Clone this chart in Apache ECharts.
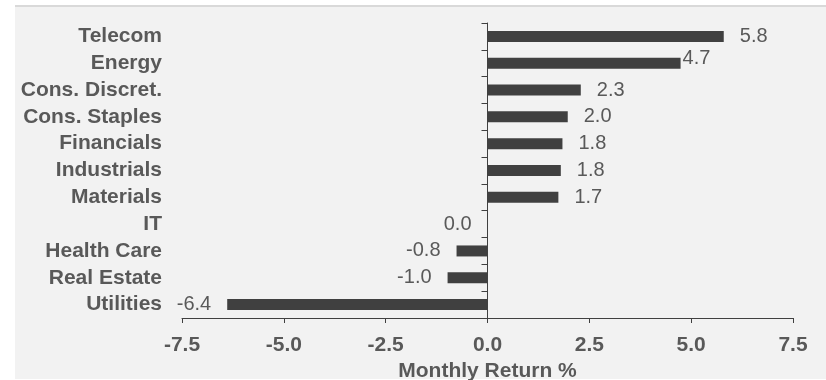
<!DOCTYPE html>
<html>
<head>
<meta charset="utf-8">
<script src="https://cdn.jsdelivr.net/npm/echarts@6/dist/echarts.min.js"></script>
<style>
  html, body { margin: 0; padding: 0; background: #fff; }
  #chart { width: 826px; height: 380px; }
</style>
</head>
<body>
<div id="chart"></div>
<script>
// sectors, top to bottom
const sectors = ["Telecom", "Energy", "Cons. Discret.", "Cons. Staples", "Financials",
  "Industrials", "Materials", "IT", "Health Care", "Real Estate", "Utilities"];
// monthly return %
const returns = [5.8, 4.74, 2.29, 1.97, 1.84, 1.8, 1.74, 0.0, -0.76, -0.98, -6.39];
const xTicks = [-7.5, -5.0, -2.5, 0.0, 2.5, 5.0, 7.5];

const textColor = "#595959";
const fontFamily = "Liberation Sans, Arial, sans-serif";

let chart = echarts.init(document.getElementById("chart"));

let barData = returns.map(function (v, i) {
  let item = {
    value: v,
    label: {
      position: v > 0 ? "right" : "left"
    }
  };
  // Energy's label sits tight to the bar and a bit higher in the original
  if (i === 1) {
    item.label.offset = [-14, -5];
  }
  return item;
});

let option = {
  backgroundColor: "#ffffff",
  animation: false,
  graphic: [
    { type: "rect", z: -10, shape: { x: 15, y: 7, width: 811, height: 372 }, style: { fill: "#f2f2f2" } },
    { type: "rect", z: -10, shape: { x: 15, y: 5, width: 811, height: 2 }, style: { fill: "#d9d9d9" } }
  ],
  grid: {
    left: 182,
    right: 33,
    top: 23,
    bottom: 62,
    containLabel: false,
    outerBoundsMode: "none"
  },
  xAxis: {
    type: "value",
    min: xTicks[0],
    max: xTicks[xTicks.length - 1],
    interval: 2.5,
    name: "Monthly Return %",
    nameLocation: "middle",
    nameGap: 34,
    nameTextStyle: { color: textColor, fontSize: 21, fontWeight: "bold", fontFamily: fontFamily },
    axisLine: { show: true, onZero: false, lineStyle: { color: "#404040", width: 1 } },
    axisTick: { show: true, length: 5, lineStyle: { color: "#404040" } },
    axisLabel: {
      color: textColor,
      fontSize: 21,
      fontWeight: "bold",
      fontFamily: fontFamily,
      margin: 17,
      formatter: function (v) { return v.toFixed(1); }
    },
    splitLine: { show: false }
  },
  yAxis: [
    {
      // line through zero with ticks, no labels
      type: "category",
      inverse: true,
      data: sectors,
      axisLine: { show: true, onZero: true, lineStyle: { color: "#404040", width: 1 } },
      axisTick: { show: true, length: 6, inside: false, lineStyle: { color: "#404040" } },
      axisLabel: { show: false }
    },
    {
      // category names on the left edge of the grid
      type: "category",
      inverse: true,
      position: "left",
      offset: 0,
      data: sectors,
      axisLine: { show: false, onZero: false },
      axisTick: { show: false },
      axisLabel: {
        interval: 0,
        color: textColor,
        fontSize: 21,
        fontWeight: "bold",
        fontFamily: fontFamily,
        margin: 20
      }
    }
  ],
  series: [
    {
      type: "bar",
      yAxisIndex: 0,
      data: barData,
      barWidth: 11,
      itemStyle: { color: "#404040" },
      label: {
        show: true,
        distance: 16,
        color: textColor,
        fontSize: 20,
        fontFamily: fontFamily,
        formatter: function (p) { return p.value.toFixed(1); }
      }
    }
  ]
};

chart.setOption(option);
</script>
</body>
</html>
